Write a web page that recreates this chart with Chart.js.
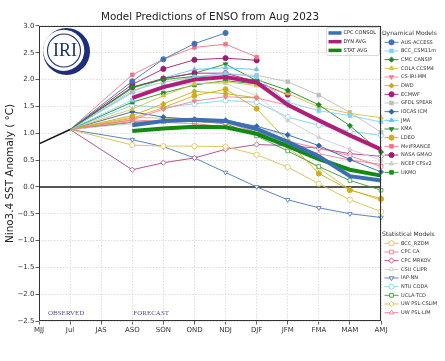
<!DOCTYPE html>
<html>
<head>
<meta charset="utf-8">
<title>Model Predictions of ENSO from Aug 2023</title>
<script src="https://cdn.jsdelivr.net/npm/chart.js@4.4.0/dist/chart.umd.min.js"></script>
<style>
  html, body { margin: 0; padding: 0; background: #fff; }
</style>
</head>
<body>
<canvas id="enso" width="445" height="361"></canvas>
<script>
// x axis seasons (first two observed, forecasts start at ASO)
const seasons = ["MJJ", "Jul", "JAS", "ASO", "SON", "OND", "NDJ", "DJF", "JFM", "FMA", "MAM", "AMJ"];
const observed = [0.80, 1.07];

// averages, ASO onwards
const cpcConsol = [1.15, 1.23, 1.25, 1.23, 1.08, 0.84, 0.57, 0.20, 0.12];
const dynAvg    = [1.66, 1.86, 2.00, 2.05, 1.95, 1.53, 1.24, 0.96, 0.70];
const statAvg   = [1.04, 1.09, 1.12, 1.11, 0.99, 0.76, 0.52, 0.32, 0.21];

// dynamical models, ASO onwards
const ausAccess = [1.97, 2.38, 2.67, 2.87];
const bccCsm11m = [1.62, 1.88, 2.05, 2.12, 2.05, 1.58, 1.42, 1.33, 1.21];
const cmcCansip = [1.86, 2.00, 2.06, 2.02, 2.00, 1.80, 1.53, 1.14, 0.65];
const colaCcsm4 = [1.45, 1.70, 1.92, 1.96, 1.89, 1.74, 1.49, 1.37, 1.29];
const csIriMm   = [1.25, 1.45, 1.60, 1.68, 1.66, 1.52];
const dwd       = [1.33, 1.55, 1.78, 1.74, 1.66];
const ecmwf     = [1.86, 2.02, 2.12, 2.12, 1.96, 1.72];
const gfdlSpear = [1.80, 1.95, 2.05, 2.10, 2.08, 1.96, 1.71, 1.39, 1.02];
const iocasIcm  = [1.40, 1.30, 1.26, 1.24, 1.13, 0.97, 0.77, 0.51, 0.28];
const jma       = [1.77, 2.03, 2.19, 2.22, 2.19];
const kma       = [1.84, 2.02, 2.12, 2.29, 1.98];
const ldeo      = [1.28, 1.48, 1.70, 1.82, 1.46, 0.85, 0.25, -0.06, -0.22];
const metFrance = [2.09, 2.38, 2.60, 2.66, 2.42];
const nasaGmao  = [1.91, 2.20, 2.37, 2.40, 2.36];
const ncepCfsv2 = [1.75, 1.85, 1.93, 1.93, 1.70, 1.24, 0.92, 0.70, 0.50];
const ukmo      = [1.58, 1.75, 1.90, 1.98, 1.92];

// statistical models, ASO onwards
const bccRzdm   = [0.78, 0.76, 0.76, 0.75, 0.60, 0.37, 0.06, -0.24, -0.46];
const cpcCa     = [1.25, 1.22, 1.22, 1.20, 1.02, 0.85, 0.72, 0.58, 0.38];
const cpcMrkov  = [0.32, 0.45, 0.54, 0.70, 0.79, 0.77, 0.72, 0.62, 0.57];
const csuClipr  = [1.18, 1.22, 1.26, 1.22, 1.10, 0.95];
const iapNn     = [0.88, 0.75, 0.54, 0.27, 0.00, -0.24, -0.39, -0.50, -0.57];
const ntuCoda   = [1.52, 1.48, 1.55, 1.61, 1.58, 1.30, 1.15, 1.04, 0.96];
const uclaTcd   = [1.20, 1.22, 1.22, 1.18, 0.95, 0.67, 0.38, 0.12, -0.06];
const uwCslim   = [1.30, 1.28, 1.27, 1.22, 1.05, 0.72, 0.35, -0.05, -0.25];
const uwLim     = [1.22, 1.20, 1.18, 1.12, 0.98, 0.80, 0.62, 0.50, 0.42];

// look of each line
const averages = [
  { name: "CPC CONSOL", vals: cpcConsol, color: "#3a6fb5" },
  { name: "DYN AVG",    vals: dynAvg,    color: "#b01e7a" },
  { name: "STAT AVG",   vals: statAvg,   color: "#128a12" }
];
const dynModels = [
  { name: "AUS-ACCESS", vals: ausAccess, color: "#3d72b8", shape: "circle" },
  { name: "BCC_CSM11m", vals: bccCsm11m, color: "#7fd3f5", shape: "rect" },
  { name: "CMC CANSIP", vals: cmcCansip, color: "#1e8c1e", shape: "rectRot" },
  { name: "COLA CCSM4", vals: colaCcsm4, color: "#d6c048", shape: "triangle" },
  { name: "CS-IRI-MM",  vals: csIriMm,   color: "#f5808f", shape: "triangle", rot: 180 },
  { name: "DWD",        vals: dwd,       color: "#c9ac1f", shape: "rectRot" },
  { name: "ECMWF",      vals: ecmwf,     color: "#a81d78", shape: "circle" },
  { name: "GFDL SPEAR", vals: gfdlSpear, color: "#bdbdbd", shape: "rect" },
  { name: "IOCAS ICM",  vals: iocasIcm,  color: "#2f66ae", shape: "rectRot" },
  { name: "JMA",        vals: jma,       color: "#5cc6f2", shape: "triangle" },
  { name: "KMA",        vals: kma,       color: "#2a8a2a", shape: "triangle", rot: 180 },
  { name: "LDEO",       vals: ldeo,      color: "#cfae1c", shape: "circle" },
  { name: "MetFRANCE",  vals: metFrance, color: "#f07585", shape: "rect" },
  { name: "NASA GMAO",  vals: nasaGmao,  color: "#9e1c6e", shape: "circle" },
  { name: "NCEP CFSv2", vals: ncepCfsv2, color: "#cfcfcf", shape: "triangle" },
  { name: "UKMO",       vals: ukmo,      color: "#228b22", shape: "rect" }
];
const statModels = [
  { name: "BCC_RZDM",     vals: bccRzdm,  color: "#d8c050", shape: "circle" },
  { name: "CPC CA",       vals: cpcCa,    color: "#f07a8a", shape: "rect" },
  { name: "CPC MRKOV",    vals: cpcMrkov, color: "#b0408a", shape: "rectRot" },
  { name: "CSU CLIPR",    vals: csuClipr, color: "#cccccc", shape: "triangle" },
  { name: "IAP-NN",       vals: iapNn,    color: "#4a76b8", shape: "triangle", rot: 180 },
  { name: "NTU CODA",     vals: ntuCoda,  color: "#80d0f0", shape: "circle" },
  { name: "UCLA-TCD",     vals: uclaTcd,  color: "#3c9a3c", shape: "rect" },
  { name: "UW PSL-CSLIM", vals: uwCslim,  color: "#d8c040", shape: "rectRot" },
  { name: "UW PSL-LIM",   vals: uwLim,    color: "#f08090", shape: "triangle" }
];
statModels.forEach(m => m.open = true);

const FONT = "DejaVu Sans";
Chart.defaults.font.family = FONT;

// Jul observation -> ASO forecast, drawn as a faint fan line
const fan = {
  borderColor: c => c.p0DataIndex === 1 ? "rgba(70,70,70,0.6)" : undefined,
  borderWidth: c => c.p0DataIndex === 1 ? 0.6 : undefined,
  borderDash: c => c.p0DataIndex === 1 ? [1.5, 1.2] : undefined
};

function modelData(vals) {
  return [null, observed[1], null].concat(vals);
}

function modelSet(m) {
  return {
    label: m.name,
    data: modelData(m.vals),
    borderColor: m.color,
    borderWidth: 0.9,
    pointStyle: m.shape,
    pointRotation: m.rot || 0,
    pointRadius: c => c.dataIndex < 3 ? 0 : 2.6,
    pointBackgroundColor: m.open ? "#fff" : m.color,
    pointBorderColor: m.color,
    pointBorderWidth: 0.8,
    spanGaps: true,
    segment: fan
  };
}

const datasets = [];
averages.forEach(a => datasets.push({
  label: a.name,
  data: [null, null, null].concat(a.vals),
  borderColor: a.color,
  borderWidth: 4,
  pointRadius: 0
}));
datasets.push({ label: "Observed", data: observed, borderColor: "#111", borderWidth: 1.4, pointRadius: 0 });
dynModels.forEach(m => datasets.push(modelSet(m)));
statModels.forEach(m => datasets.push(modelSet(m)));

function tickText(v) {
  return (v < 0 ? "\u2212" : "") + Math.abs(v).toFixed(1);
}

function drawMarker(ctx, m, x, y) {
  ctx.save();
  ctx.strokeStyle = m.color;
  ctx.lineWidth = 0.9;
  ctx.beginPath();
  ctx.moveTo(x - 7, y);
  ctx.lineTo(x + 7, y);
  ctx.stroke();
  ctx.fillStyle = m.open ? "#fff" : m.color;
  Chart.helpers.drawPoint(ctx, { pointStyle: m.shape, radius: 2.6, rotation: m.rot || 0, borderWidth: 0.9 }, x, y);
  ctx.restore();
}

function drawLogo(ctx, cx, cy) {
  const navy = "#1f2e7a";
  ctx.save();
  ctx.fillStyle = navy;
  ctx.beginPath(); ctx.arc(cx, cy, 23.5, 0, Math.PI * 2); ctx.fill();
  ctx.fillStyle = "#fff";
  ctx.beginPath(); ctx.arc(cx - 2.8, cy - 1.2, 20.6, 0, Math.PI * 2); ctx.fill();
  ctx.strokeStyle = navy;
  ctx.lineWidth = 1.1;
  ctx.beginPath(); ctx.arc(cx - 2.5, cy - 1, 16.5, 0, Math.PI * 2); ctx.stroke();
  ctx.fillStyle = navy;
  ctx.font = "18px 'Liberation Serif'";
  ctx.textAlign = "center";
  ctx.textBaseline = "middle";
  ctx.fillText("IRI", cx - 1.5, cy);
  ctx.restore();
}

const extras = {
  id: "extras",
  beforeDatasetsDraw(chart) {
    const { ctx, chartArea: a, scales: { y } } = chart;
    const y0 = y.getPixelForValue(0);
    ctx.save();
    ctx.strokeStyle = "#555";
    ctx.lineWidth = 2;
    ctx.beginPath();
    ctx.moveTo(a.left, y0);
    ctx.lineTo(a.right, y0);
    ctx.stroke();
    ctx.restore();
  },
  afterDatasetsDraw(chart) {
    const { ctx, chartArea: a, scales: { x, y } } = chart;
    ctx.save();
    // plot frame
    ctx.strokeStyle = "#333";
    ctx.lineWidth = 1;
    ctx.strokeRect(a.left + 0.5, a.top + 0.5, a.right - a.left - 1, a.bottom - a.top - 1);

    drawLogo(ctx, 66.5, 51.5);

    // period labels
    ctx.fillStyle = "#5050a0";
    ctx.font = "7px 'Liberation Serif'";
    ctx.textBaseline = "middle";
    ctx.textAlign = "left";
    const ly = y.getPixelForValue(-2.35);
    ctx.fillText("OBSERVED", x.getPixelForValue(0) + 9, ly);
    ctx.fillText("FORECAST", x.getPixelForValue(3) + 1, ly);

    // averages legend inside plot
    const bx = a.right - 54.5, by = a.top + 1.5;
    ctx.fillStyle = "rgba(255,255,255,0.85)";
    ctx.strokeStyle = "#cfcfcf";
    ctx.lineWidth = 0.8;
    ctx.beginPath();
    ctx.roundRect(bx, by, 53, 28, 2);
    ctx.fill();
    ctx.stroke();
    ctx.font = "5px " + FONT;
    averages.forEach((m, i) => {
      const ry = by + 5.5 + i * 8.7;
      ctx.strokeStyle = m.color;
      ctx.lineWidth = 3.5;
      ctx.beginPath();
      ctx.moveTo(bx + 2, ry);
      ctx.lineTo(bx + 15, ry);
      ctx.stroke();
      ctx.fillStyle = "#222";
      ctx.fillText(m.name, bx + 17, ry);
    });

    // model legends outside the plot
    const lx = a.right + 1;
    ctx.fillStyle = "#333";
    ctx.font = "6px " + FONT;
    ctx.fillText("Dynamical Models", lx, 33.5);
    ctx.font = "5px " + FONT;
    dynModels.forEach((m, i) => {
      const ry = 42.3 + i * 8.67;
      drawMarker(ctx, m, lx + 9.5, ry);
      ctx.fillStyle = "#333";
      ctx.fillText(m.name, lx + 19, ry);
    });
    ctx.font = "6px " + FONT;
    ctx.fillText("Statistical Models", lx, 234.3);
    ctx.font = "5px " + FONT;
    statModels.forEach((m, i) => {
      const ry = 243.3 + i * 8.67;
      drawMarker(ctx, m, lx + 9.5, ry);
      ctx.fillStyle = "#333";
      ctx.fillText(m.name, lx + 19, ry);
    });
    ctx.restore();
  }
};

const gridOpts = { color: "#d4d4d4", lineWidth: 0.8, tickLength: 3.5, tickColor: "#333", tickWidth: 0.8 };
const borderOpts = { display: false, dash: [1.5, 1.5] };

new Chart(document.getElementById("enso"), {
  type: "line",
  data: { labels: seasons, datasets: datasets },
  options: {
    responsive: false,
    animation: false,
    devicePixelRatio: 1,
    layout: { padding: { left: 0, right: 64, top: 0, bottom: 0 } },
    elements: { line: { tension: 0 } },
    plugins: {
      legend: { display: false },
      tooltip: { enabled: false },
      title: {
        display: true,
        fullSize: false,
        text: "Model Predictions of ENSO from Aug 2023",
        color: "#222",
        font: { size: 10.4, weight: "normal" },
        padding: { top: 11, bottom: 2.5 }
      }
    },
    scales: {
      x: {
        grid: gridOpts,
        border: borderOpts,
        ticks: { color: "#333", font: { size: 7 }, padding: 1, maxRotation: 0, autoSkip: false },
        afterFit: s => { s.height = 40; }
      },
      y: {
        min: -2.5,
        max: 3.0,
        grid: gridOpts,
        border: borderOpts,
        ticks: { stepSize: 0.5, color: "#333", font: { size: 7 }, padding: 1, callback: tickText },
        title: {
          display: true,
          text: "Nino3.4 SST Anomaly ( \u00B0C)",
          color: "#222",
          font: { size: 10.4 },
          padding: { top: 4, bottom: 0 }
        },
        afterFit: s => { s.width = 39; }
      }
    }
  },
  plugins: [extras]
});
</script>
</body>
</html>
